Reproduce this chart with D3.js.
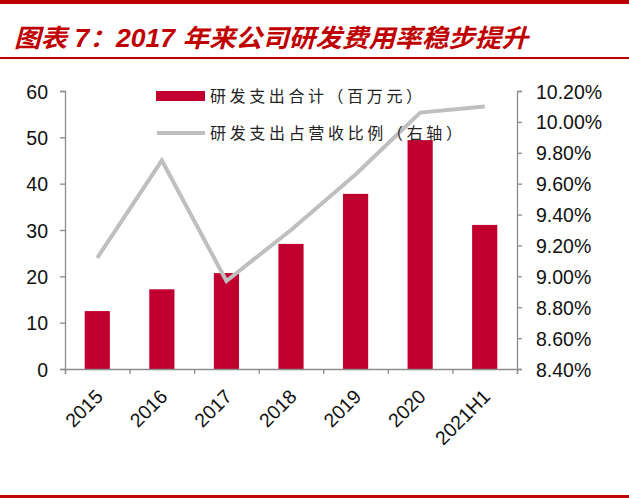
<!doctype html>
<html>
<head>
<meta charset="utf-8">
<script src="https://cdnjs.cloudflare.com/ajax/libs/d3/7.8.5/d3.min.js"></script>
<style>
  body { margin: 0; background: #fff; }
  svg { display: block; }
  .domain { stroke: #8c8c8c; stroke-width: 1.3; }
  .tick line { stroke: #8c8c8c; stroke-width: 1.3; }
  .tick text { fill: #111; font-family: "Liberation Sans", Arial, sans-serif; font-size: 19.5px; }
  .legend text { font-family: "Noto Sans CJK SC", sans-serif; font-size: 16px; fill: #222; }
</style>
</head>
<body>
<svg width="629" height="500"></svg>
<script>
// data
var categories = ["2015", "2016", "2017", "2018", "2019", "2020", "2021H1"];
var rdSpend = [12.5, 17.2, 20.7, 27.0, 37.8, 49.4, 31.1];          // 百万元
var rdRatio = [9.12, 9.75, 8.97, 9.30, 9.66, 10.06, 10.10];        // %
var leftTicks = [0, 10, 20, 30, 40, 50, 60];
var rightTicks = [8.4, 8.6, 8.8, 9.0, 9.2, 9.4, 9.6, 9.8, 10.0, 10.2];
var titleText = "图表 7：2017 年来公司研发费用率稳步提升";
var legendNames = ["研发支出合计（百万元）", "研发支出占营收比例（右轴）"];

var red = "#c0002f", darkRed = "#c00000", grey = "#bfbfbf";
var svg = d3.select("svg");

// frame lines + title
svg.append("rect").attr("x", 0).attr("y", 0).attr("width", 629).attr("height", 4).attr("fill", darkRed);
svg.append("rect").attr("x", 0).attr("y", 57).attr("width", 629).attr("height", 2).attr("fill", darkRed);
svg.append("rect").attr("x", 0).attr("y", 495).attr("width", 629).attr("height", 3).attr("fill", darkRed);
svg.append("text")
  .attr("x", 14).attr("y", 47)
  .attr("textLength", 514).attr("lengthAdjust", "spacingAndGlyphs")
  .style("font-family", "'Liberation Sans', 'Noto Sans CJK SC', sans-serif")
  .style("font-size", "25px").style("font-style", "italic").style("font-weight", "bold")
  .attr("fill", darkRed)
  .text(titleText);

var plotL = 65, plotR = 517, plotT = 91, plotB = 369;

var x = d3.scaleBand().domain(categories).range([plotL, plotR]).paddingInner(0.61).paddingOuter(0.305);
var xc = d3.scalePoint().domain(categories).range([plotL, plotR]).padding(0.5);
var y = d3.scaleLinear().domain([0, 60]).range([plotB, plotT]);
var y2 = d3.scaleLinear().domain([8.4, 10.2]).range([plotB, plotT]);

// bars
svg.append("g").selectAll("rect").data(rdSpend).join("rect")
  .attr("x", (d, i) => x(categories[i]))
  .attr("y", d => y(d))
  .attr("width", x.bandwidth())
  .attr("height", d => plotB - y(d))
  .attr("fill", red);

// axes
svg.append("g").attr("transform", `translate(${plotL},0)`)
  .call(d3.axisLeft(y).tickValues(leftTicks).tickSize(5).tickPadding(12))
  .call(g => g.selectAll(".tick text").attr("dy", "0.36em"));

svg.append("g").attr("transform", `translate(${plotR},0)`)
  .call(d3.axisRight(y2).tickValues(rightTicks).tickSize(5).tickPadding(14)
    .tickFormat(d => d.toFixed(2) + "%"))
  .call(g => g.selectAll(".tick text").attr("dy", "0.36em"));

var xb = d3.scaleLinear().domain([0, categories.length]).range([plotL, plotR]);
var xAxis = svg.append("g").attr("transform", `translate(0,${plotB})`)
  .call(d3.axisBottom(xb).ticks(categories.length).tickSize(5).tickFormat(""));
xAxis.selectAll(".tick text").remove();

svg.append("g").selectAll("text").data(categories).join("text")
  .attr("transform", d => `translate(${xc(d) + 2},${plotB + 24}) rotate(-45)`)
  .attr("text-anchor", "end")
  .attr("dy", "0.35em")
  .style("font-family", "'Liberation Sans', Arial, sans-serif")
  .style("font-size", "19.5px")
  .attr("fill", "#111")
  .text(d => d);

// line
var line = d3.line().x((d, i) => xc(categories[i])).y(d => y2(d));
svg.append("path").datum(rdRatio)
  .attr("d", line)
  .attr("fill", "none")
  .attr("stroke", grey)
  .attr("stroke-width", 4)
  .attr("stroke-linejoin", "miter");

// legend
var lg = svg.append("g").attr("class", "legend");
lg.append("rect").attr("x", 156).attr("y", 91).attr("width", 49).attr("height", 10).attr("fill", red);
lg.append("line").attr("x1", 157).attr("x2", 205).attr("y1", 133).attr("y2", 133)
  .attr("stroke", grey).attr("stroke-width", 4);
lg.selectAll("text").data(legendNames).join("text")
  .attr("x", 210)
  .attr("y", (d, i) => i === 0 ? 96 : 133)
  .attr("dy", "0.35em")
  .attr("textLength", (d, i) => i === 0 ? 212 : 252)
  .attr("lengthAdjust", "spacing")
  .text(d => d);
</script>
</body>
</html>
